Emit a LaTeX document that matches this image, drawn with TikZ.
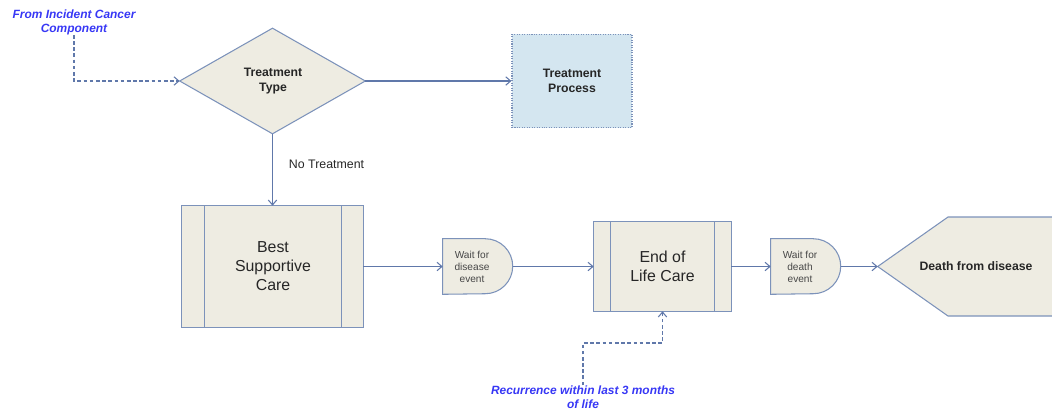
\documentclass[tikz,border=0pt]{standalone}
\usepackage{fontspec}
\setmainfont{Liberation Sans}
\usetikzlibrary{arrows.meta}
\definecolor{boxfill}{RGB}{238,236,226}
\definecolor{boxline}{RGB}{124,146,186}
\definecolor{flowline}{RGB}{96,120,170}
\definecolor{procfill}{RGB}{212,230,240}
\definecolor{notecol}{RGB}{55,55,245}
\definecolor{txt}{RGB}{38,38,38}
\tikzset{
  shapebox/.style={draw=none, inner sep=0pt, text=txt, align=center},
  outline/.style={draw=boxline, fill=boxfill, line width=0.75pt},
  flow/.style={draw=flowline, line width=0.75pt, -{Straight Barb[length=3.5pt,width=6pt]}},
  noteflow/.style={draw=flowline, line width=0.75pt, dash pattern=on 2.6pt off 1.8pt, -{Straight Barb[length=3.5pt,width=6pt]}},
  note/.style={text=notecol, font=\fontsize{8.5}{10}\selectfont\bfseries\itshape, align=center, inner sep=0pt},
  bigtext/.style={font=\fontsize{11.3}{13.4}\selectfont},
  boldtext/.style={font=\fontsize{8.7}{10.2}\selectfont\bfseries},
  waittext/.style={font=\fontsize{7.2}{8.6}\selectfont, text=txt!85},
}
\begin{document}
\begin{tikzpicture}[x=0.025cm, y=-0.025cm]
\useasboundingbox (0,0) rectangle (1052,416);

% decision diamond
\node[shapebox, minimum width=4.625cm, minimum height=2.625cm] (tt) at (272.5,81) {};
\path[outline] (tt.west) -- (tt.north) -- (tt.east) -- (tt.south) -- cycle;
\node[boldtext, text=txt, align=center] (ttlabel) at (273,81) {Treatment\\Type};

% treatment process (external component)
\node[shapebox, boldtext, minimum width=3.0cm, minimum height=2.325cm,
      draw=boxline, fill=procfill, line width=0.75pt, densely dotted] (tp) at (572,81) {Treatment\\Process};

% best supportive care (predefined process)
\node[shapebox, minimum width=4.525cm, minimum height=3.025cm] (bsc) at (272.5,266.5) {};
\path[outline] (bsc.north west) rectangle (bsc.south east);
\draw[boxline, line width=0.75pt] ([xshift=0.575cm]bsc.north west) -- ([xshift=0.575cm]bsc.south west);
\draw[boxline, line width=0.75pt] ([xshift=-0.55cm]bsc.north east) -- ([xshift=-0.55cm]bsc.south east);
\node[bigtext, text=txt, align=center] (bsclabel) at (273,266) {Best\\Supportive\\Care};

% wait for disease event (delay)
\node[shapebox, minimum width=1.75cm, minimum height=1.375cm] (wd) at (478,266.5) {};
\path[outline] (wd.north west) -- ++(42.5,0) arc[start angle=90, end angle=-90, radius=0.6875cm] -- (wd.south west) -- cycle;
\node[waittext, align=center] (wdlabel) at (472,266.5) {Wait for\\disease\\event};

% end of life care (predefined process)
\node[shapebox, minimum width=3.425cm, minimum height=2.225cm] (eol) at (662.5,266.5) {};
\path[outline] (eol.north west) rectangle (eol.south east);
\draw[boxline, line width=0.75pt] ([xshift=0.425cm]eol.north west) -- ([xshift=0.425cm]eol.south west);
\draw[boxline, line width=0.75pt] ([xshift=-0.425cm]eol.north east) -- ([xshift=-0.425cm]eol.south east);
\node[bigtext, text=txt, align=center] (eollabel) at (662.5,266) {End of\\Life Care};

% wait for death event (delay)
\node[shapebox, minimum width=1.75cm, minimum height=1.375cm] (wdt) at (806,266.5) {};
\path[outline] (wdt.north west) -- ++(42.5,0) arc[start angle=90, end angle=-90, radius=0.6875cm] -- (wdt.south west) -- cycle;
\node[waittext, align=center] (wdtlabel) at (800,266.5) {Wait for\\death\\event};

% death from disease (terminator, runs off the right edge)
\node[shapebox, minimum width=4.35cm, minimum height=2.475cm] (death) at (965,266.5) {};
\path[outline] (1056,217) -- (948,217) -- (death.west) -- (948,316) -- (1056,316);
\node[boldtext, text=txt] (deathlabel) at (976,266) {Death from disease};

% incoming notes
\node[note] (src) at (74,22) {From Incident Cancer\\Component};
\node[note] (rec) at (583,397) {Recurrence within last 3 months\\of life};

% connectors
\draw[noteflow] (src.south) |- (tt.west);
\draw[flow] (tt.east) -- (tp.west);
\draw[flow] (tt.south) -- node[pos=0.42, right=8pt, font=\fontsize{8.8}{10}\selectfont, text=txt] (notreat) {No Treatment} (bsc.north);
\draw[flow] (bsc.east) -- (wd.west);
\draw[flow] (wd.east) -- (eol.west);
\draw[flow] (eol.east) -- (wdt.west);
\draw[flow] (wdt.east) -- (death.west);
\draw[noteflow] (rec.north) -- (583,343) -| (eol.south);
\end{tikzpicture}
\end{document}
